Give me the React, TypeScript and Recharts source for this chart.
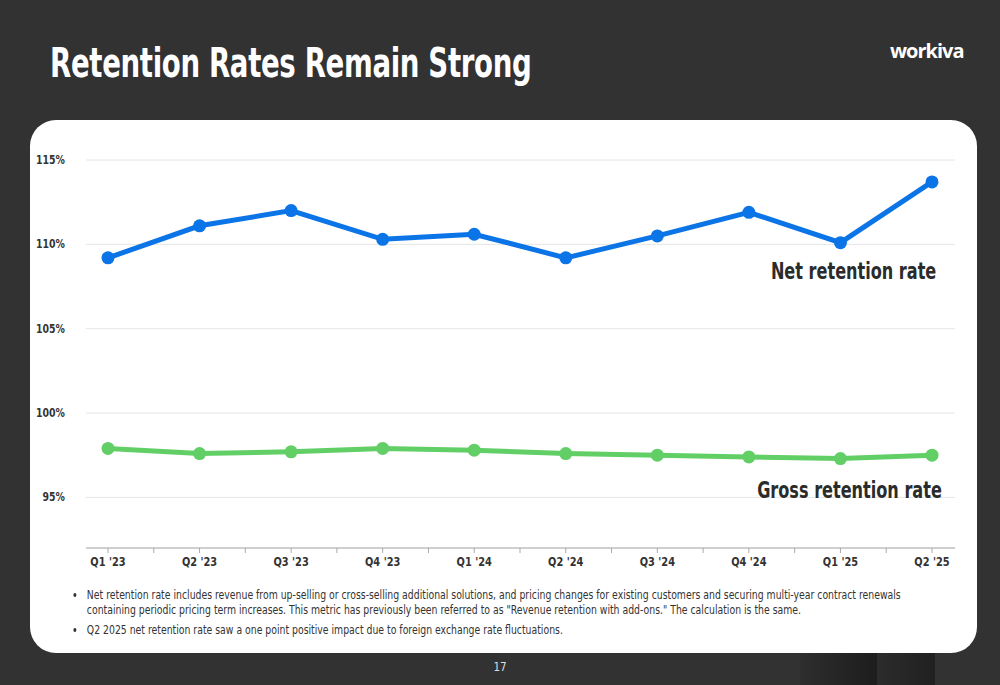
import { LineChart, Line, XAxis, YAxis, CartesianGrid } from "recharts";

const quarters = ["Q1 '23", "Q2 '23", "Q3 '23", "Q4 '23", "Q1 '24", "Q2 '24", "Q3 '24", "Q4 '24", "Q1 '25", "Q2 '25"];
const netRetention = [109.2, 111.1, 112.0, 110.3, 110.6, 109.2, 110.5, 111.9, 110.1, 113.7];
const grossRetention = [97.9, 97.6, 97.7, 97.9, 97.8, 97.6, 97.5, 97.4, 97.3, 97.5];
const yTicks = [95, 100, 105, 110, 115];

const data = quarters.map((q, i) => ({ q, net: netRetention[i], gross: grossRetention[i] }));

const FONT = '"DejaVu Sans", sans-serif';
const BLUE = "#0b74e6";
const GREEN = "#62cf66";
const NARROW = 0.7; // no condensed face installed, squeeze the glyphs instead

// layout of the plot area
const PLOT_L = 86;
const PLOT_R = 955;
const PAD_L = 22;
const PAD_R = 23;
const STEP = (PLOT_R - PLOT_L - PAD_L - PAD_R) / (quarters.length - 1);

function QuarterTick(props: any) {
  const { x, y, payload, index } = props;
  const last = index === quarters.length - 1;
  return (
    <g>
      <line x1={x} x2={x} y1={y - 8} y2={y - 3} stroke="#aaa" />
      {!last && <line x1={x + STEP / 2} x2={x + STEP / 2} y1={y - 8} y2={y - 3} stroke="#aaa" />}
      <text transform={`translate(${x},${y + 10}) scale(0.82,1)`} textAnchor="middle" fill="#333" fontSize={12} fontWeight={700} fontFamily={FONT}>
        {payload.value}
      </text>
    </g>
  );
}

function PercentTick(props: any) {
  const { x, y, payload } = props;
  return (
    <text transform={`translate(${x - 13},${y + 4}) scale(0.75,1)`} textAnchor="end" fill="#333" fontSize={12.5} fontWeight={700} fontFamily={FONT}>
      {payload.value}%
    </text>
  );
}

export default function App() {
  const narrow = (origin: string, k = NARROW) => ({ transform: `scaleX(${k})`, transformOrigin: origin });
  return (
    <div style={{ position: "absolute", left: 0, top: 0, width: 1000, height: 685, background: "#323232", overflow: "hidden", fontFamily: FONT }}>
      {/* bottom right shading */}
      <div style={{ position: "absolute", left: 800, top: 653, width: 77, height: 32, background: "linear-gradient(90deg, #2e2e2e, #1d1d1d)" }} />
      <div style={{ position: "absolute", left: 877, top: 653, width: 58, height: 32, background: "linear-gradient(90deg, #2c2c2c, #202020)" }} />

      <div style={{ position: "absolute", left: 50, top: 36, color: "#fff", fontSize: 40, fontWeight: 700, letterSpacing: -0.5, lineHeight: "54px", whiteSpace: "nowrap", ...narrow("left", 0.69) }}>
        Retention Rates Remain Strong
      </div>
      <div style={{ position: "absolute", left: 890, top: 37, color: "#fff", fontSize: 20, fontWeight: 700, fontFamily: '"Open Sans", sans-serif', letterSpacing: -1 }}>
        workiva
      </div>

      <div style={{ position: "absolute", left: 30, top: 120, width: 947, height: 533, background: "#fff", borderRadius: 26 }} />

      <div style={{ position: "absolute", left: 0, top: 0 }}>
        <LineChart width={1000} height={580} data={data} margin={{ top: 160, right: 1000 - PLOT_R, left: 0, bottom: 2 }}>
          <CartesianGrid vertical={false} stroke="#e6e6e6" />
          <XAxis
            dataKey="q"
            padding={{ left: PAD_L, right: PAD_R }}
            stroke="#aaa"
            tickLine={false}
            tick={<QuarterTick />}
            interval={0}
            height={30}
          />
          <YAxis
            domain={[92, 115]}
            ticks={yTicks}
            width={PLOT_L}
            axisLine={false}
            tickLine={false}
            tick={<PercentTick />}
          />
          <Line
            dataKey="net"
            stroke={BLUE}
            strokeWidth={5}
            dot={{ r: 6.5, fill: BLUE, stroke: BLUE, strokeWidth: 0 }}
            activeDot={false}
            isAnimationActive={false}
          />
          <Line
            dataKey="gross"
            stroke={GREEN}
            strokeWidth={5}
            dot={{ r: 6.5, fill: GREEN, stroke: GREEN, strokeWidth: 0 }}
            activeDot={false}
            isAnimationActive={false}
          />
        </LineChart>
      </div>

      <div style={{ position: "absolute", right: 64, top: 258, color: "#2b2b2b", fontSize: 23, fontWeight: 700, whiteSpace: "nowrap", ...narrow("right") }}>
        Net retention rate
      </div>
      <div style={{ position: "absolute", right: 58, top: 477, color: "#2b2b2b", fontSize: 23, fontWeight: 700, whiteSpace: "nowrap", ...narrow("right") }}>
        Gross retention rate
      </div>

      <ul style={{ position: "absolute", left: 60, top: 587, margin: 0, paddingLeft: 33, width: 1110, color: "#333", fontSize: 12.5, lineHeight: "15px", ...narrow("left", 0.745) }}>
        <li style={{ marginBottom: 5, paddingLeft: 3 }}>
          Net retention rate includes revenue from up-selling or cross-selling additional solutions, and pricing changes for existing customers and securing multi-year contract renewals containing periodic pricing term increases. This metric has previously been referred to as "Revenue retention with add-ons." The calculation is the same.
        </li>
        <li style={{ paddingLeft: 3 }}>Q2 2025 net retention rate saw a one point positive impact due to foreign exchange rate fluctuations.</li>
      </ul>

      <div style={{ position: "absolute", left: 0, width: 1000, top: 659, textAlign: "center", color: "#ddd", fontSize: 13, ...narrow("center", 0.8) }}>
        17
      </div>
    </div>
  );
}
